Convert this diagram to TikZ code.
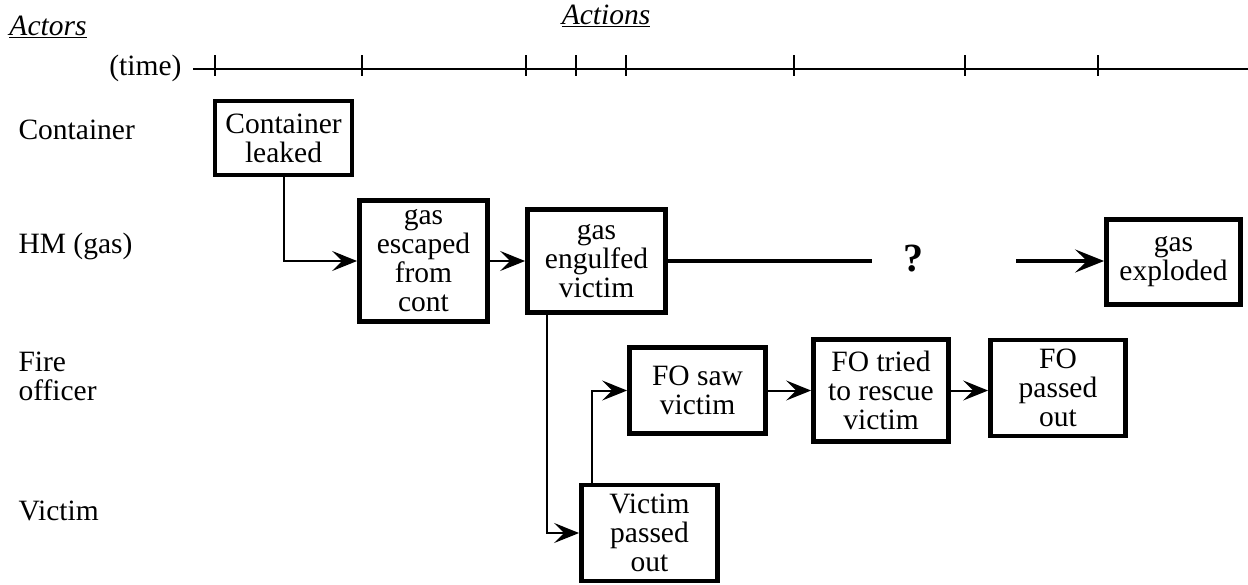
\documentclass[tikz,border=0pt]{standalone}
\usepackage{fontspec}
\setmainfont{Liberation Serif}
\usetikzlibrary{arrows.meta,calc}
\begin{document}
\begin{tikzpicture}[x=1pt,y=-1pt,
  every node/.style={font=\fontsize{29.5}{29}\selectfont},
  evbox/.style={draw,line width=4.8pt,align=center,inner sep=0pt},
  conn/.style={line width=2pt,-{Stealth[length=25pt,width=20pt,inset=10pt]}},
  thickconn/.style={line width=4pt,-{Stealth[length=29pt,width=23pt,inset=12pt]}},
  rowlab/.style={anchor=west,align=left},
  tick/.style={line width=1.8pt}]
\useasboundingbox (0,0) rectangle (1248,584);
% headings
\node (actors) at (48,27) {\textit{\underline{Actors}}};
\node (actions) at (606,16) {\textit{\underline{Actions}}};
% time line
\node[anchor=east] (time) at (185,68) {(time)};
\coordinate (tstart) at (193,69);
\coordinate (tend) at (1248,69);
\draw[line width=2.6pt] (tstart) -- (tend);
\foreach \x in {215,362,526,576,626,794,965,1098}
  \draw[tick] (\x,55) -- (\x,76);
% row labels
\node[rowlab] (lcont) at (15,130) {Container};
\node[rowlab] (lhm) at (15,246) {HM (gas)};
\node[rowlab] (lfo) at (15,376) {Fire\\officer};
\node[rowlab] (lvic) at (15,511) {Victim};
% boxes
\node[evbox,minimum width=137,minimum height=74] (cont) at (283.5,138) {Container\\leaked};
\node[evbox,minimum width=128,minimum height=121] (esc) at (423.5,261) {gas\\escaped\\from\\cont};
\node[evbox,minimum width=138,minimum height=103] (eng) at (596.5,261) {gas\\engulfed\\victim};
\node[evbox,minimum width=134,minimum height=85] (expl) at (1173.5,262) {gas\\exploded};
\node[evbox,minimum width=136,minimum height=86] (saw) at (697.5,390.5) {FO saw\\victim};
\node[evbox,minimum width=135,minimum height=102] (tried) at (881,390.5) {FO tried\\to rescue\\victim};
\node[evbox,minimum width=135,minimum height=96] (fopass) at (1058,388) {FO\\passed\\out};
\node[evbox,minimum width=136,minimum height=96] (vic) at (649.5,533) {Victim\\passed\\out};
% question mark
\node (q) at (913,259) {\fontsize{40}{40}\selectfont\textbf{?}};
\coordinate (q1) at (872,261);
\coordinate (q2) at (1016,261);
% connectors
\draw[conn] (cont.south) |- (esc.west);
\draw[conn] (esc.east) -- (eng.west);
\draw[line width=4pt] (eng.east |- q1) -- (q1);
\draw[thickconn] (q2) -- (expl.west |- q2);
\draw[conn] ($(eng.south west)+(22,0)$) |- (vic.west);
\draw[conn] ($(vic.north west)+(13,0)$) |- (saw.west);
\draw[conn] (saw.east) -- (tried.west);
\draw[conn] (tried.east) -- (tried.east -| fopass.west);
\end{tikzpicture}
\end{document}
